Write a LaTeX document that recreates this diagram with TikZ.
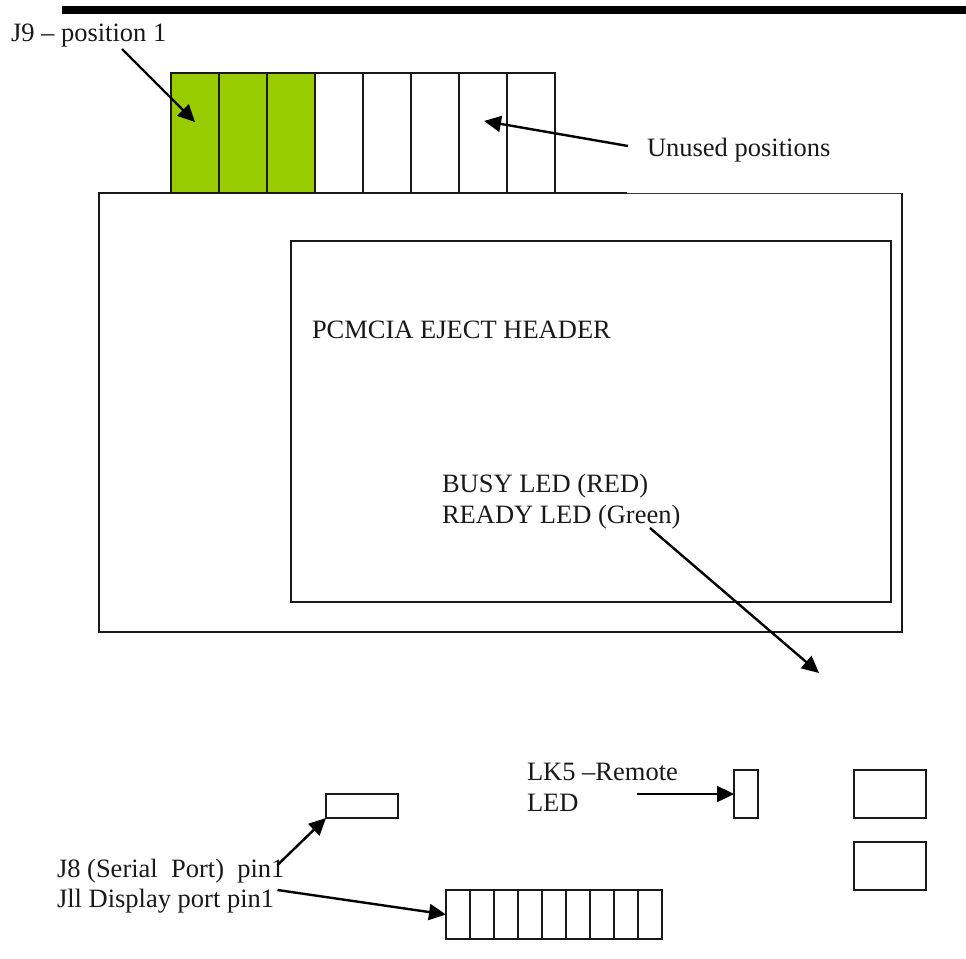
\documentclass[tikz,border=0pt]{standalone}
\usepackage{fontspec}
\setmainfont{Liberation Serif}
\usetikzlibrary{arrows.meta}
\definecolor{pinfill}{RGB}{153,204,0}
\tikzset{
  x=1pt,y=-1pt,
  lw/.style={line width=1.8pt,draw=black!90},
  box/.style={lw,rectangle,inner sep=0pt,outer sep=0pt,minimum width=#1},
  cell/.style={box=48pt,minimum height=120pt,anchor=north west},
  gcell/.style={cell,fill=pinfill},
  dcell/.style={box=24pt,minimum height=49pt,anchor=north west},
  part/.style={box=72pt,minimum height=48pt,anchor=north west},
  lbl/.style={inner sep=0pt,outer sep=0pt,anchor=base west,font=\fontsize{26.5}{30}\selectfont,text=black!90},
  pointer/.style={line width=2.4pt,draw=black,-{Triangle[length=17pt,width=16pt]},shorten >=0pt}
}
\begin{document}
\begin{tikzpicture}
\useasboundingbox (0,0) rectangle (966,958);
\fill[black] (62,6) rectangle (966,14);
% main board
\node[inner sep=0pt,outer sep=0pt,minimum width=803pt,minimum height=439pt,anchor=north west] (board) at (99,193) {};
\coordinate (topbreak) at (627,193);
\draw[lw] (topbreak) -- (board.north west) -- (board.south west) -- (board.south east) -- (board.north east);
\draw[line width=1pt,draw=black!80] (topbreak) -- (board.north east);
\node[box=600pt,minimum height=361pt,anchor=north west] (inner) at (291,241) {};
% J9 cells
\node[gcell] (c1) at (171,73) {};
\node[gcell] (c2) at (219,73) {};
\node[gcell] (c3) at (267,73) {};
\node[cell] (c4) at (315,73) {};
\node[cell] (c5) at (363,73) {};
\node[cell] (c6) at (411,73) {};
\node[cell] (c7) at (459,73) {};
\node[cell] (c8) at (507,73) {};
% lower parts
\node[box=72pt,minimum height=24pt,anchor=north west] (j8) at (326,794) {};
\node[box=24pt,minimum height=48pt,anchor=north west] (lk5) at (734,770) {};
\node[part] (p1) at (854,770) {};
\node[part] (p2) at (854,842) {};
\foreach \i [count=\n] in {446,470,494,518,542,566,590,614,638}
  \node[dcell] (d\n) at (\i,890) {};
% labels
\node[lbl] (tj9) at (11,42) {J9 – position 1};
\node[lbl] (tun) at (647,156) {Unused positions};
\node[lbl] (tpc) at (312,338) {PCMCIA EJECT HEADER};
\node[lbl] (tbusy) at (442,492) {BUSY LED (RED)};
\node[lbl] (tready) at (442,523) {READY LED (Green)};
\node[lbl] (tlk) at (527,780) {LK5 –Remote};
\node[lbl] (tled) at (527,811) {LED};
\node[lbl] (tj8) at (57,877) {J8 (Serial\ \ Port)\ \ pin1};
\node[lbl] (tj11) at (57,907) {Jll Display port pin1};
% free ends
\coordinate (a1s) at (122,49);
\coordinate (a1e) at (195,122);
\coordinate (a2s) at (628,146);
\coordinate (a2e) at (484,121);
\coordinate (a3s) at (650,528);
\coordinate (a3e) at (819,673);
\coordinate (a4s) at (277.5,865);
\coordinate (a5s) at (277.5,890);
\coordinate (a6s) at (637,794);
% arrows
\draw[pointer] (a1s) -- (a1e);
\draw[pointer] (a2s) -- (a2e);
\draw[pointer] (a3s) -- (a3e);
\draw[pointer] (a4s) -- (j8.south west);
\draw[pointer] (a5s) -- (d1.west);
\draw[pointer] (a6s) -- (lk5.west);
\end{tikzpicture}
\end{document}
